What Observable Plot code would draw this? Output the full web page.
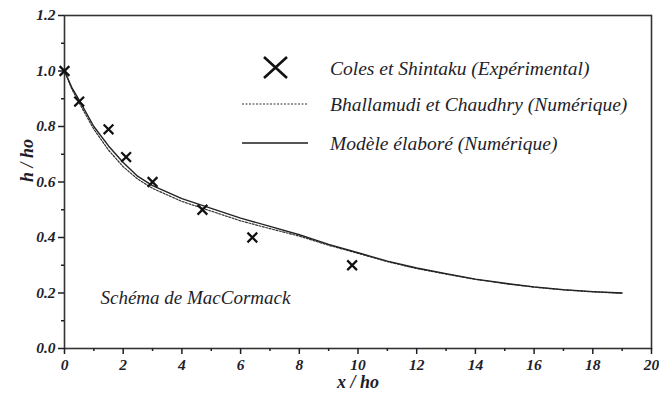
<!DOCTYPE html>
<html><head><meta charset="utf-8">
<script src="https://cdn.jsdelivr.net/npm/d3@7"></script>
<script src="https://cdn.jsdelivr.net/npm/@observablehq/plot@0.6"></script>
<style>
body{margin:0;background:#fff;}
#wrap{position:relative;width:659px;height:394px;font-family:'Liberation Serif',serif;color:#222;}
#legend{position:absolute;left:0;top:0;}
</style></head>
<body><div id="wrap"></div>
<script>
// Experimental points (Coles et Shintaku)
const expX = [0, 0.5, 1.5, 2.1, 3.0, 4.7, 6.4, 9.8];
const expY = [1.0, 0.89, 0.79, 0.69, 0.6, 0.5, 0.4, 0.3];
// Numerical curves
const curveX = [0, 0.25, 0.5, 1, 1.5, 2, 2.5, 3, 4, 5, 6, 7, 8, 9, 10, 11, 12, 13, 14, 15, 16, 17, 18, 19];
const bhallamudiY = [1.0, 0.935, 0.885, 0.79, 0.715, 0.655, 0.61, 0.577, 0.53, 0.495, 0.46, 0.432, 0.405, 0.372, 0.343, 0.313, 0.288, 0.268, 0.249, 0.234, 0.221, 0.211, 0.204, 0.199];
const modeleY = [1.0, 0.94, 0.895, 0.80, 0.73, 0.67, 0.62, 0.587, 0.54, 0.505, 0.47, 0.44, 0.41, 0.375, 0.345, 0.315, 0.29, 0.27, 0.25, 0.235, 0.222, 0.212, 0.205, 0.2];
// Ticks
const xMajor = [0, 2, 4, 6, 8, 10, 12, 14, 16, 18, 20];
const xMinor = [1, 3, 5, 7, 9, 11, 13, 15, 17, 19];
const yMajor = [0, 0.2, 0.4, 0.6, 0.8, 1.0, 1.2];
const yMinor = [0.1, 0.3, 0.5, 0.7, 0.9, 1.1];
// Texts
const xLabel = "x / ho";
const yLabel = "h / ho";
const legendLabels = ["Coles et Shintaku (Expérimental)", "Bhallamudi et Chaudhry (Numérique)", "Modèle élaboré (Numérique)"];
const annotation = "Schéma de MacCormack";

const exp = expX.map((x, i) => ({x, y: expY[i]}));
const bh = curveX.map((x, i) => ({x, y: bhallamudiY[i]}));
const mo = curveX.map((x, i) => ({x, y: modeleY[i]}));

const ink = "#1e1e2a";
const font = "Liberation Serif";
const bi = {fontWeight: "bold", fontStyle: "italic", fontFamily: font, fontVariant: "normal", fill: ink};
const chart = Plot.plot({
  width: 659, height: 394,
  marginLeft: 64, marginRight: 8, marginTop: 15, marginBottom: 46,
  style: {fontFamily: font, fontStyle: "italic", fontWeight: "bold", fontSize: "15px", color: ink, background: "#fff"},
  x: {domain: [0, 20], axis: null},
  y: {domain: [0, 1.2], axis: null},
  marks: [
    Plot.frame({stroke: "#333", strokeWidth: 1.6}),
    Plot.axisX(xMinor, {tickSize: 3, text: null, label: null, strokeWidth: 1.5}),
    Plot.axisY(yMinor, {tickSize: 3, text: null, label: null, strokeWidth: 1.5}),
    Plot.axisX(xMajor, {tickSize: 6, text: null, label: null, strokeWidth: 1.5}),
    Plot.axisY(yMajor, {tickSize: 6, text: null, label: null, strokeWidth: 1.5}),
    Plot.text(xMajor, {x: d => d, text: d => String(d), frameAnchor: "bottom", lineAnchor: "middle", dy: 17, fontSize: 15.5, ...bi}),
    Plot.text(yMajor, {y: d => d, text: d => d.toFixed(1), frameAnchor: "left", textAnchor: "end", dx: -9, fontSize: 15.5, ...bi}),
    Plot.text([xLabel], {frameAnchor: "bottom", lineAnchor: "middle", dy: 34, fontSize: 18, ...bi}),
    Plot.text([yLabel], {frameAnchor: "left", dx: -37, rotate: -90, fontSize: 18, ...bi}),
    Plot.line(bh, {x: "x", y: "y", stroke: "#333", strokeWidth: 1.2, strokeDasharray: "2,1.5"}),
    Plot.line(mo, {x: "x", y: "y", stroke: "#222", strokeWidth: 1.4}),
    Plot.dot(exp, {x: "x", y: "y", symbol: "times", r: 4.5, stroke: "#111", strokeWidth: 2.2}),
    Plot.text([annotation], {frameAnchor: "bottom-left", lineAnchor: "middle", dx: 36, dy: -51, fontSize: 19, fontWeight: "normal", fontStyle: "italic", fontFamily: font, fill: ink, textAnchor: "start"})
  ]
});
document.getElementById("wrap").appendChild(chart);

// Legend overlay
const lg = d3.select("#wrap").append("svg").attr("id", "legend").attr("width", 659).attr("height", 394);
const rows = [68, 104, 143];
const g = lg.append("g");
g.append("path").attr("d", "M264,57L287,78M287,57L264,78").attr("stroke", "#111").attr("stroke-width", 2.6).attr("fill", "none");
g.append("line").attr("x1", 242).attr("x2", 308).attr("y1", rows[1]).attr("y2", rows[1]).attr("stroke", "#333").attr("stroke-width", 1.2).attr("stroke-dasharray", "2,1.5");
g.append("line").attr("x1", 242).attr("x2", 308).attr("y1", rows[2]).attr("y2", rows[2]).attr("stroke", "#555").attr("stroke-width", 2);
legendLabels.forEach((t, i) => {
  g.append("text").attr("x", 330).attr("y", rows[i]).attr("dy", "0.35em")
   .attr("font-family", font).attr("font-style", "italic").attr("font-size", 19.5)
   .attr("fill", ink).text(t);
});
</script>
</body></html>
